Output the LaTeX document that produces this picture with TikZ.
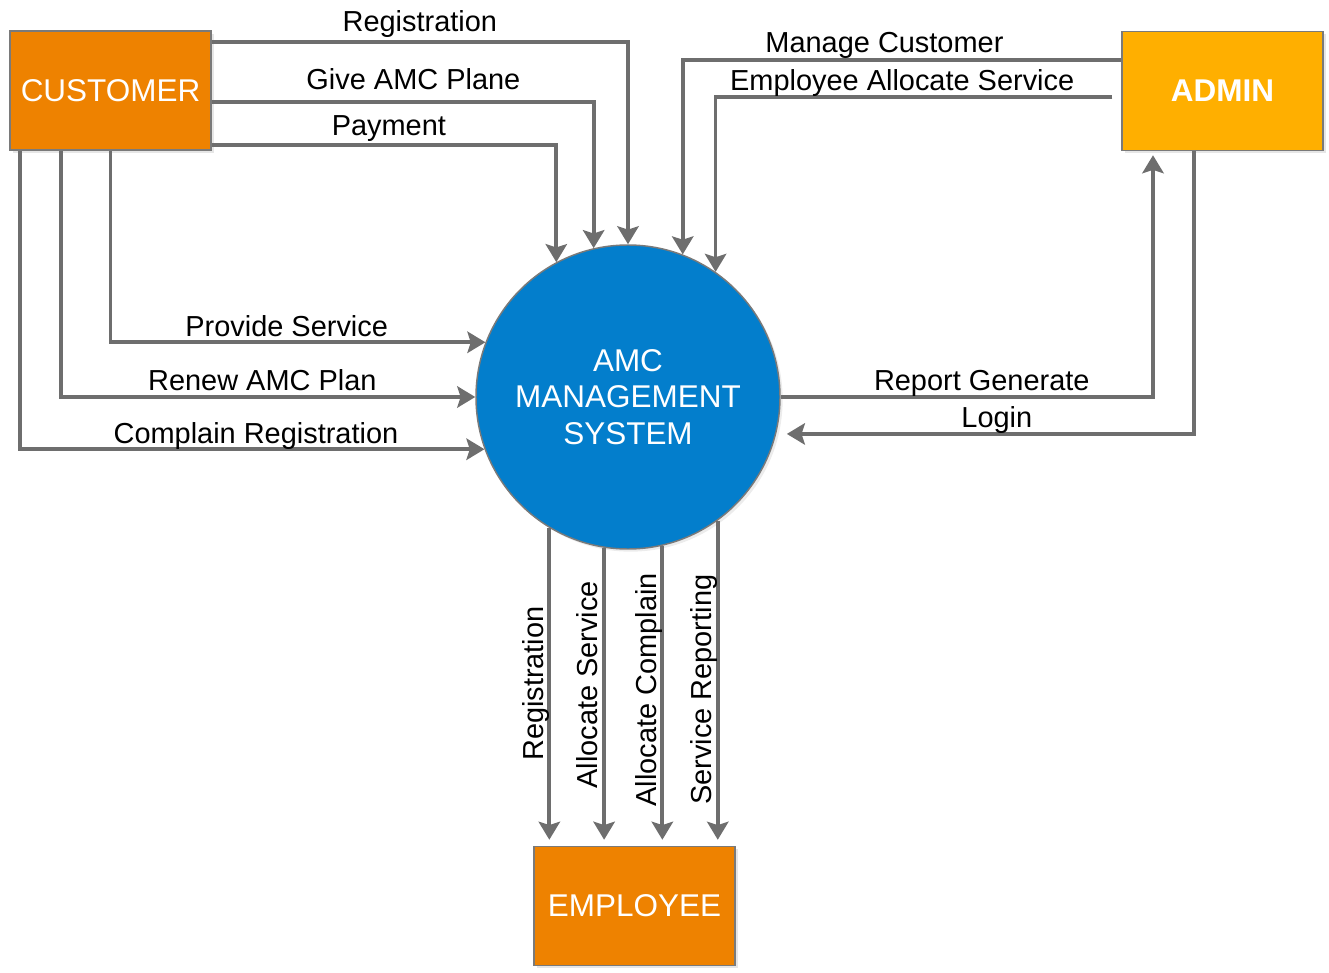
\documentclass[tikz,border=0pt]{standalone}
\usepackage{fontspec}
\setmainfont{Liberation Sans}
\usetikzlibrary{arrows.meta,shadows}
\definecolor{custorange}{HTML}{EE8200}
\definecolor{adminorange}{HTML}{FFAF00}
\definecolor{sysblue}{HTML}{037ECC}
\definecolor{flowgray}{HTML}{6E6E6E}
\definecolor{bordergray}{HTML}{7A7A7A}
\begin{document}
\begin{tikzpicture}[x=0.75pt,y=-0.75pt,
    entity node/.style={rectangle,draw=bordergray,line width=1.1pt,minimum width=150.75pt,minimum height=89.25pt,text=white,font=\fontsize{23.6}{28}\selectfont,drop shadow={shadow xshift=2pt,shadow yshift=-2pt,opacity=0.2}},
    process node/.style={circle,draw=bordergray,line width=1.1pt,fill=sysblue,minimum size=228pt,text=white,align=center,font=\fontsize{23.6}{27.4}\selectfont,drop shadow={shadow xshift=2pt,shadow yshift=-2pt,opacity=0.15}},
    flow/.style={draw=flowgray,line width=2.8pt,-{Stealth[width=16pt,length=13.5pt,inset=2.5pt]}},
    flow label/.style={above,inner sep=1pt,text depth=0.22em,font=\fontsize{21.7}{26}\selectfont},
    down label/.style={rotate=90,anchor=south,inner sep=1pt,text depth=0.22em,font=\fontsize{21.7}{26}\selectfont}]
    \useasboundingbox (0,0) rectangle (1329,973);

    \node[entity node, fill=custorange] at (110.5, 90.5) (cust) {CUSTOMER};
    \node[entity node, fill=adminorange, font=\fontsize{23.6}{28}\selectfont\bfseries] at (1222.5, 91) (adm) {ADMIN};
    \node[entity node, fill=custorange] at (634.5, 906) (emp) {EMPLOYEE};
    \node[process node] at (628, 397) (sys) {AMC\\MANAGEMENT\\SYSTEM};

    % customer -> system
    \draw[flow] (cust.east |- 0,42) -| node[flow label,pos=0.25,yshift=3pt] {Registration} (sys.90);
    \draw[flow] (cust.east |- 0,102) -| node[flow label,pos=0.264,yshift=4.5pt] {Give AMC Plane} (sys.103);
    \draw[flow] (cust.east |- 0,145) -| node[flow label,pos=0.257,yshift=2.5pt] {Payment} (sys.118);
    \draw[flow] (cust.south) |- node[flow label,pos=0.735] {Provide Service} (sys.159);
    \draw[flow] (61,0 |- cust.south) |- node[flow label,pos=0.743] {Renew AMC Plan} (sys.180);
    \draw[flow] (20,0 |- cust.south) |- node[flow label,pos=0.754] {Complain Registration} (sys.200);

    % admin <-> system
    \draw[flow] (adm.west |- 0,60) -| node[flow label,pos=0.27,yshift=1pt] {Manage Customer} (sys.69);
    \draw[flow,shorten <=6.75pt] (adm.west |- 0,97) -| node[flow label,pos=0.27] {Employee Allocate Service} (sys.55);
    \draw[flow,shorten >=3pt] (sys.0) -| node[flow label,pos=0.27] {Report Generate} (1153,0 |- adm.south);
    \draw[flow,shorten >=8pt] (1194,0 |- adm.south) |- node[flow label,pos=0.736] {Login} (sys.-14);

    % system -> employee
    \draw[flow,shorten >=4.5pt] (sys.239) -- node[down label,pos=0.49] {Registration} (sys.239 |- emp.north);
    \draw[flow,shorten >=4.5pt] (sys.261) -- node[down label,pos=0.46] {Allocate Service} (sys.261 |- emp.north);
    \draw[flow,shorten >=4.5pt] (sys.283) -- node[down label,pos=0.48] {Allocate Complain} (sys.283 |- emp.north);
    \draw[flow,shorten >=4.5pt] (sys.306) -- node[down label,pos=0.52] {Service Reporting} (sys.306 |- emp.north);
\end{tikzpicture}
\end{document}
